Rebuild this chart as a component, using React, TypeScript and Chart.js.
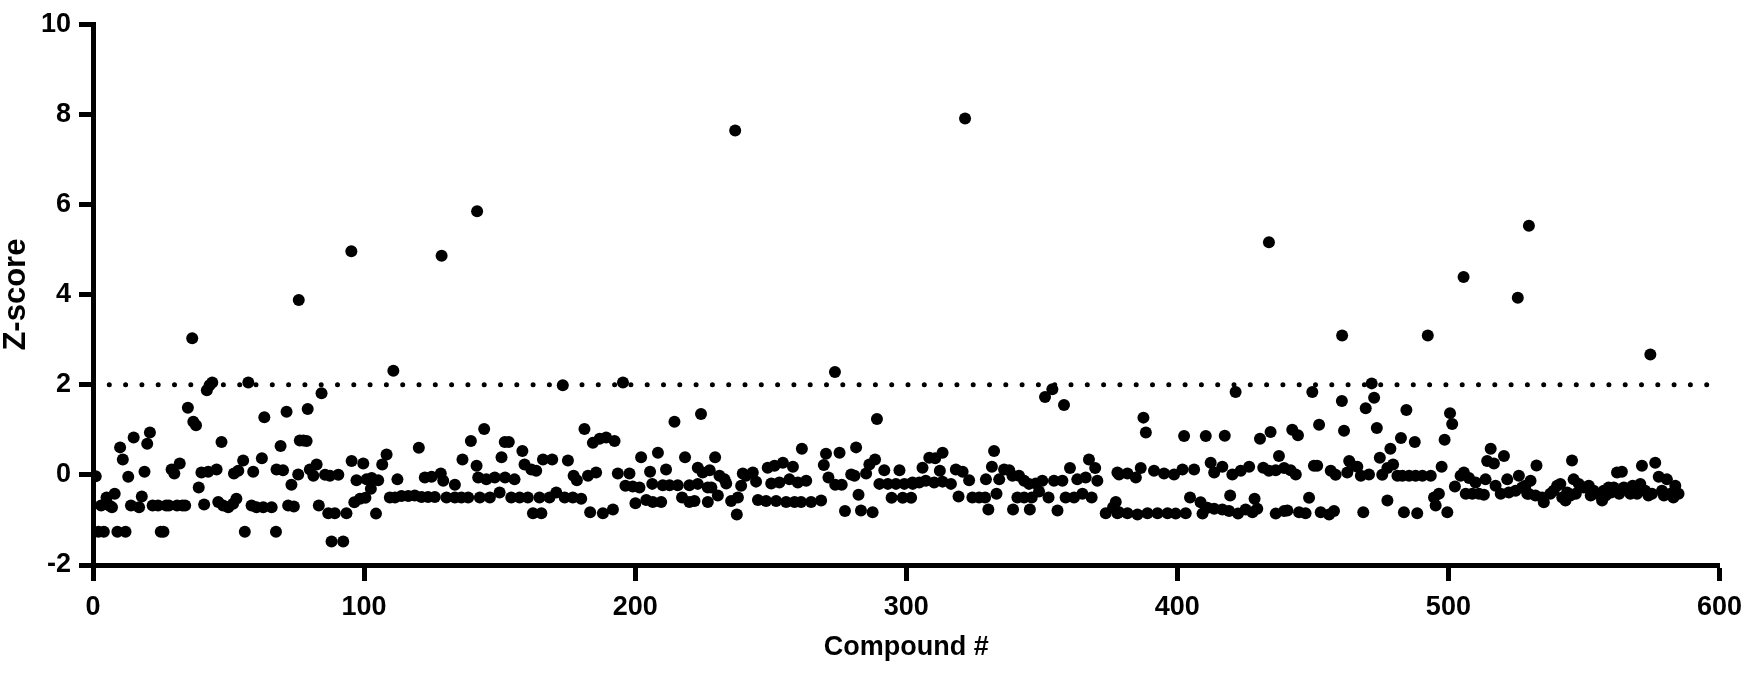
import { useEffect, useRef } from "react";
import { Chart, registerables } from "chart.js";

Chart.register(...registerables);

// ---- axis / reference values ----
const xTickValues = [0, 100, 200, 300, 400, 500, 600];
const yTickValues = [-2, 0, 2, 4, 6, 8, 10];
const thresholdZ = 2;
const xTitle = "Compound #";
const yTitle = "Z-score";

// ---- data: [compound #, Z-score] ----
const block0to76: Array<[number, number]> = [
  [1, -0.03], [2, -1.26], [3, -0.68], [4, -1.26], [5, -0.5], [6, -0.68], [7, -0.72], [8, -0.42],
  [9, -1.26], [10, 0.61], [11, 0.34], [12, -1.26], [13, -0.04], [14, -0.68], [15, 0.83], [17, -0.72],
  [18, -0.48], [19, 0.07], [20, 0.69], [21, 0.94], [22, -0.68], [24, -0.68], [25, -1.26], [26, -1.26],
  [27, -0.68], [28, -0.68], [29, 0.12], [30, 0.03], [31, -0.68], [32, 0.25], [33, -0.68], [34, -0.68],
  [35, 1.49], [37, 1.18], [38, 1.1], [39, -0.28], [40, 0.05], [41, -0.66], [42, 1.88], [42.5, 0.07],
  [43, 1.99], [44, 2.05], [45.6, 0.12], [46.2, -0.6], [47.4, 0.73], [48, -0.68], [49.9, -0.72], [51.7, -0.64],
  [52, 0.03], [52.9, -0.53], [53.6, 0.09], [55.4, 0.32], [56, -1.26], [57.3, 2.05], [58.5, -0.68], [59.1, 0.07],
  [60.3, -0.72], [62.3, 0.37], [62.8, -0.72], [63.2, 1.28], [65.9, -0.72], [67.5, -1.26], [67.7, 0.12], [69.2, 0.64],
  [70.1, 0.1], [71.4, 1.4], [72, -0.68], [73.2, -0.22], [74.1, -0.7], [75.7, 0.01], [76.3, 0.76],
];

const block77to150: Array<[number, number]> = [
  [77.6, 0.76], [78.8, 0.75], [79.2, 1.46], [80, 0.12], [81.3, -0.02], [82.5, 0.23], [83.3, -0.68], [84.3, 1.81],
  [85.6, 0], [86.8, -0.85], [87.4, -0.02], [88, -1.48], [89.2, -0.85], [90.5, 0], [92.3, -1.48], [93.5, -0.85],
  [95.4, 0.31], [96.4, -0.61], [97.2, -0.12], [98.5, -0.53], [99.7, 0.25], [100.5, -0.51], [100.9, -0.1], [102.5, -0.31],
  [102.8, -0.07], [104.4, -0.86], [105.2, -0.12], [106.7, 0.23], [108.3, 0.45], [109.5, -0.5], [111.4, -0.5], [112.3, -0.1],
  [113.8, -0.47], [116.3, -0.47], [118.7, -0.46], [120.2, 0.6], [121.2, -0.49], [122.4, -0.06], [123.6, -0.49], [124.9, -0.04],
  [126.1, -0.49], [128.3, 0.03], [129.2, -0.13], [130.4, -0.5], [133.5, -0.22], [133.5, -0.5], [135.9, -0.5], [136.3, 0.34],
  [138.4, -0.5], [139.4, 0.75], [141.5, 0.2], [142.1, -0.06], [142.7, -0.5], [144.3, 1.02], [145.1, -0.1], [146.4, -0.5],
  [148.2, -0.06], [150, -0.39],
];

const block150to226: Array<[number, number]> = [
  [150.7, 0.39], [151.9, 0.73], [152, -0.06], [153.4, 0.73], [154.3, -0.5], [155.5, -0.1], [157.4, -0.5], [158.4, 0.53],
  [159.2, 0.23], [160.4, -0.5], [161.7, 0.12], [162.3, -0.85], [163.5, 0.09], [164.7, -0.5], [165.4, -0.85], [166, 0.34],
  [168.4, -0.5], [169.4, 0.34], [170.9, -0.39], [173.3, 1.99], [174, -0.5], [175.2, 0.32], [177, -0.5], [177.3, -0.02],
  [178.5, -0.12], [180.1, -0.53], [181.3, 1.02], [182.6, -0.02], [183.4, -0.83], [184.4, 0.71], [185.6, 0.05], [186.9, 0.8],
  [188.1, -0.85], [189.3, 0.83], [191.8, -0.77], [192.4, 0.75], [193.6, 0.03], [195.5, 2.05], [196.4, -0.24], [197.9, 0.03],
  [199.1, -0.26], [200.1, -0.63], [201.6, -0.28], [202.2, 0.39], [204.1, -0.56], [205.5, 0.07], [206.3, -0.2], [206.5, -0.6],
  [208.4, 0.49], [209.6, -0.6], [210.2, -0.23], [211.4, 0.12], [212.7, -0.23], [214.5, 1.18], [215.7, -0.23], [217.3, -0.5],
  [218.4, 0.39], [220, -0.23], [220, -0.6], [221.9, -0.58], [223.1, -0.2], [223.1, 0.16], [224.3, 1.35], [224.9, 0.05],
  [226.8, -0.28], [226.8, -0.6],
];

const block227to302: Array<[number, number]> = [
  [227.5, 0.1], [228.1, -0.28], [229.5, 0.39], [230.5, -0.46], [231.1, -0.02], [233, -0.1], [233.6, -0.19], [235.4, -0.58],
  [237.5, -0.88], [237.9, -0.5], [239.1, -0.24], [239.7, 0.03], [240.9, -0.02], [243.4, 0.05], [244.6, -0.15], [245.3, -0.56],
  [248.3, -0.58], [248.9, 0.16], [250.2, -0.19], [251.4, 0.2], [252, -0.58], [253.2, -0.17], [254.5, 0.27], [255.7, -0.6],
  [256.9, -0.1], [258.2, 0.18], [258.8, -0.6], [260, -0.17], [261.2, -0.6], [261.5, 0.58], [263.1, -0.13], [264.9, -0.6],
  [268.6, -0.57], [269.6, 0.22], [270.4, 0.47], [271.3, -0.06], [273.8, -0.22], [275.4, 0.49], [276.2, -0.22], [277.4, -0.8],
  [279.7, 0.01], [280.9, -0.02], [281.5, 0.61], [282.4, -0.44], [283.3, -0.79], [285.2, 0.03], [286.4, 0.23], [287.6, -0.83],
  [288.5, 0.34], [289.2, 1.24], [290.1, -0.2], [291.9, 0.1], [293.2, -0.2], [294.6, -0.51], [296.2, -0.2], [297.5, 0.1],
  [298.7, -0.51], [299.3, -0.2], [301.8, -0.51], [302.4, -0.2],
];

const block302to378: Array<[number, number]> = [
  [302.3, -0.17], [304.8, -0.17], [306, 0.16], [307.2, -0.13], [308.5, 0.38], [310.3, -0.17], [310.7, 0.37], [312.4, 0.09],
  [313.4, 0.49], [313.4, -0.15], [316.5, -0.2], [318.3, 0.12], [319.3, -0.48], [320.8, 0.07], [323.2, -0.12], [324.4, -0.5],
  [326.9, -0.5], [329.1, -0.5], [329.4, -0.1], [330.3, -0.77], [331.6, 0.18], [332.4, 0.53], [333.3, -0.42], [334.3, -0.1],
  [336.1, 0.12], [338, 0.1], [339.2, -0.02], [339.4, -0.77], [341, -0.5], [341.6, -0.02], [343.5, -0.13], [343.5, -0.5],
  [345.3, -0.2], [345.6, -0.77], [346.3, -0.5], [347.8, -0.19], [349, -0.37], [350.2, -0.13], [351.2, 1.73], [352.5, -0.5],
  [353.9, 1.9], [354.5, -0.13], [355.8, -0.79], [357.6, -0.13], [358.2, 1.55], [358.8, -0.5], [360.4, 0.15], [361.9, -0.5],
  [363.1, -0.1], [365, -0.42], [366.2, -0.06], [367.4, 0.34], [368.4, -0.5], [369.7, 0.15], [370.5, -0.13], [373.6, -0.85],
  [376.3, -0.72], [377.9, -0.85], [377.9, 0.05],
];

const block377to453: Array<[number, number]> = [
  [377.3, -0.6], [378.5, 0.01], [378.5, -0.83], [381.6, 0.03], [381.6, -0.85], [384.7, -0.06], [385.3, -0.88], [386.5, 0.15],
  [387.5, 1.27], [388.4, 0.94], [389, -0.85], [391.4, 0.09], [392.7, -0.85], [395.1, 0.03], [396.4, -0.85], [398.8, 0.01],
  [399.4, -0.86], [401.9, 0.12], [402.5, 0.86], [403.1, -0.85], [404.7, -0.5], [406.2, 0.12], [408.6, -0.61], [409.3, -0.86],
  [410.5, 0.86], [411.1, -0.73], [412.3, 0.27], [413.6, 0.05], [413.6, -0.75], [416.6, 0.18], [416.6, -0.77], [417.5, 0.87],
  [419.1, -0.8], [419.5, -0.46], [420.3, 0.01], [421.5, 1.84], [422.4, -0.86], [423.4, 0.09], [425.2, -0.77], [426.5, 0.18],
  [427.7, -0.83], [428.5, -0.53], [429.5, -0.75], [430.5, 0.8], [431.7, 0.16], [433.8, 0.09], [434.4, 0.95], [436.3, 0.1],
  [436.3, -0.86], [437.5, 0.42], [439.4, 0.15], [439.4, -0.8], [440.6, -0.79], [441.8, 0.1], [442.4, 1.0], [443.7, 0.01],
  [444.5, 0.88], [444.9, -0.83], [447.3, -0.85], [448.6, -0.51], [449.8, 1.84], [450.4, 0.2], [451.6, 0.2], [452.3, 1.11],
  [452.9, -0.83],
];

const block453to529: Array<[number, number]> = [
  [456, -0.88], [456.6, 0.09], [457.8, -0.8], [458.4, 0], [460.7, 1.64], [461.5, 0.98], [462.7, 0.05], [463.4, 0.31],
  [464.6, 0.2], [466.4, 0.18], [467.7, -0.02], [468.6, -0.83], [469.5, 1.48], [470.7, 0.01], [471.7, 2.03], [472.6, 1.71],
  [473.6, 1.04], [474.7, 0.38], [475.6, 0], [477.5, 0.15], [477.5, -0.57], [478.6, 0.58], [479.6, 0.23], [481.2, -0.02],
  [482.5, 0.82], [483, -0.02], [483.6, -0.83], [484.5, 1.44], [485.5, -0.02], [487.6, 0.73], [487.9, -0.02], [488.5, -0.85],
  [490.4, -0.02], [493.5, -0.02], [494.7, -0.5], [495.3, -0.68], [496.5, -0.42], [497.5, 0.18], [498.6, 0.78], [499.6, -0.83],
  [500.6, 1.37], [501.4, 1.13], [502.4, -0.26], [504.5, -0.02], [505.7, 0.05], [506.4, -0.42], [507.6, -0.07], [508.8, -0.42],
  [510, -0.17], [511.3, -0.42], [513.1, -0.44], [513.7, -0.1], [514.3, 0.31], [515.6, 0.58], [516.8, 0.25], [517.4, -0.24],
  [519.3, -0.42], [520.5, 0.42], [521.7, -0.1], [522.3, -0.39], [524.8, -0.35], [526, -0.02], [527.2, -0.28], [529.1, -0.42],
];

const block528to585: Array<[number, number]> = [
  [528.4, -0.24], [529.6, -0.42], [530.3, -0.13], [532.1, -0.46], [532.5, 0.21], [534.6, -0.5], [535.2, -0.61], [537.6, -0.42],
  [538.8, -0.35], [540.1, -0.24], [541.3, -0.2], [542, -0.5], [543.2, -0.57], [543.8, -0.39], [545, -0.46], [545.6, 0.32],
  [546.2, -0.1], [547, -0.42], [548.1, -0.2], [549.9, -0.28], [551.8, -0.24], [552.5, -0.46], [553.6, -0.35], [555, -0.42],
  [556.7, -0.57], [557.3, -0.35], [558, -0.46], [559.1, -0.28], [560, -0.39], [561, -0.28], [562.2, 0.05], [563, -0.42],
  [564, 0.07], [564.7, -0.28], [566, -0.3], [567.1, -0.42], [568, -0.24], [569.6, -0.42], [570.8, -0.2], [571.4, 0.2],
  [572.6, -0.35], [573.8, -0.46], [575.1, -0.42], [576.3, 0.27], [577.6, -0.04], [578.8, -0.35], [579.5, -0.46], [580.6, -0.1],
  [581.9, -0.42], [583, -0.5], [583.7, -0.24], [584.9, -0.42],
];

const hits: Array<[number, number]> = [
  [36.6, 3.03], [75.9, 3.88], [95.3, 4.96], [110.8, 2.31], [128.6, 4.86], [141.7, 5.85], [236.9, 7.64], [273.7, 2.28],
  [321.7, 7.91], [433.8, 5.16], [460.8, 3.09], [492.4, 3.09], [505.6, 4.39], [525.6, 3.93], [529.7, 5.53], [574.5, 2.67],
];

const FONT_FAMILY = "'Liberation Sans', Arial, Helvetica, sans-serif";

export default function App() {
  const canvasRef = useRef<HTMLCanvasElement | null>(null);

  useEffect(() => {
    document.body.style.margin = "0";
    const canvas = canvasRef.current;
    if (!canvas) return;

    const allBlocks = [
      block0to76, block77to150, block150to226, block227to302,
      block302to378, block377to453, block453to529, block528to585, hits,
    ];
    const points = allBlocks.flat().map(([x, y]) => ({ x, y }));

    const tickFont = { family: FONT_FAMILY, size: 27, weight: "bold" as const };
    const xTitleFont = { family: FONT_FAMILY, size: 27, weight: "bold" as const };
    const yTitleFont = { family: FONT_FAMILY, size: 31, weight: "bold" as const };

    const chart = new Chart(canvas, {
      type: "scatter",
      data: {
        datasets: [
          {
            type: "line",
            label: "threshold",
            data: [
              { x: xTickValues[0], y: thresholdZ },
              { x: xTickValues[xTickValues.length - 1], y: thresholdZ },
            ],
            borderColor: "#000",
            borderWidth: 5,
            borderDash: [0, 16.3],
            borderCapStyle: "round",
            pointRadius: 0,
            fill: false,
            order: 2,
          } as any,
          {
            label: "compounds",
            data: points,
            backgroundColor: "#000",
            borderColor: "#000",
            borderWidth: 0,
            pointRadius: 6,
            pointHoverRadius: 6,
            order: 1,
          },
        ],
      },
      options: {
        responsive: false,
        maintainAspectRatio: false,
        animation: false,
        events: [],
        layout: { padding: { left: 0, right: 31, top: 18, bottom: 0 } },
        plugins: { legend: { display: false }, tooltip: { enabled: false } },
        scales: {
          x: {
            type: "linear",
            min: xTickValues[0],
            max: xTickValues[xTickValues.length - 1],
            afterBuildTicks: (s: any) => {
              s.ticks = xTickValues.map((v) => ({ value: v }));
            },
            afterFit: (s: any) => {
              s.height = 111;
            },
            ticks: {
              autoSkip: false,
              maxRotation: 0,
              color: "#000",
              font: tickFont,
              padding: 10,
            },
            grid: {
              display: true,
              drawOnChartArea: false,
              drawTicks: true,
              tickLength: 16,
              tickWidth: 5,
              tickColor: "#000",
              color: "#000",
            },
            border: { display: true, width: 5, color: "#000" },
            title: {
              display: true,
              text: xTitle,
              color: "#000",
              font: xTitleFont,
              padding: { top: 0, bottom: 12 },
            },
          },
          y: {
            type: "linear",
            min: yTickValues[0],
            max: yTickValues[yTickValues.length - 1],
            afterBuildTicks: (s: any) => {
              s.ticks = yTickValues.map((v) => ({ value: v }));
            },
            afterFit: (s: any) => {
              s.width = 93;
            },
            ticks: {
              autoSkip: false,
              color: "#000",
              font: tickFont,
              padding: 8,
            },
            grid: {
              display: true,
              drawOnChartArea: false,
              drawTicks: true,
              tickLength: 14,
              tickWidth: 5,
              tickColor: "#000",
              color: "#000",
            },
            border: { display: true, width: 5, color: "#000" },
            title: {
              display: true,
              text: yTitle,
              color: "#000",
              font: yTitleFont,
              padding: { top: -2, bottom: 0 },
            },
          },
        },
      },
    });

    return () => chart.destroy();
  }, []);

  return (
    <div style={{ position: "absolute", left: 0, top: 0, width: 1752, height: 676, background: "#fff" }}>
      <canvas ref={canvasRef} width={1752} height={676} style={{ display: "block" }} />
    </div>
  );
}
